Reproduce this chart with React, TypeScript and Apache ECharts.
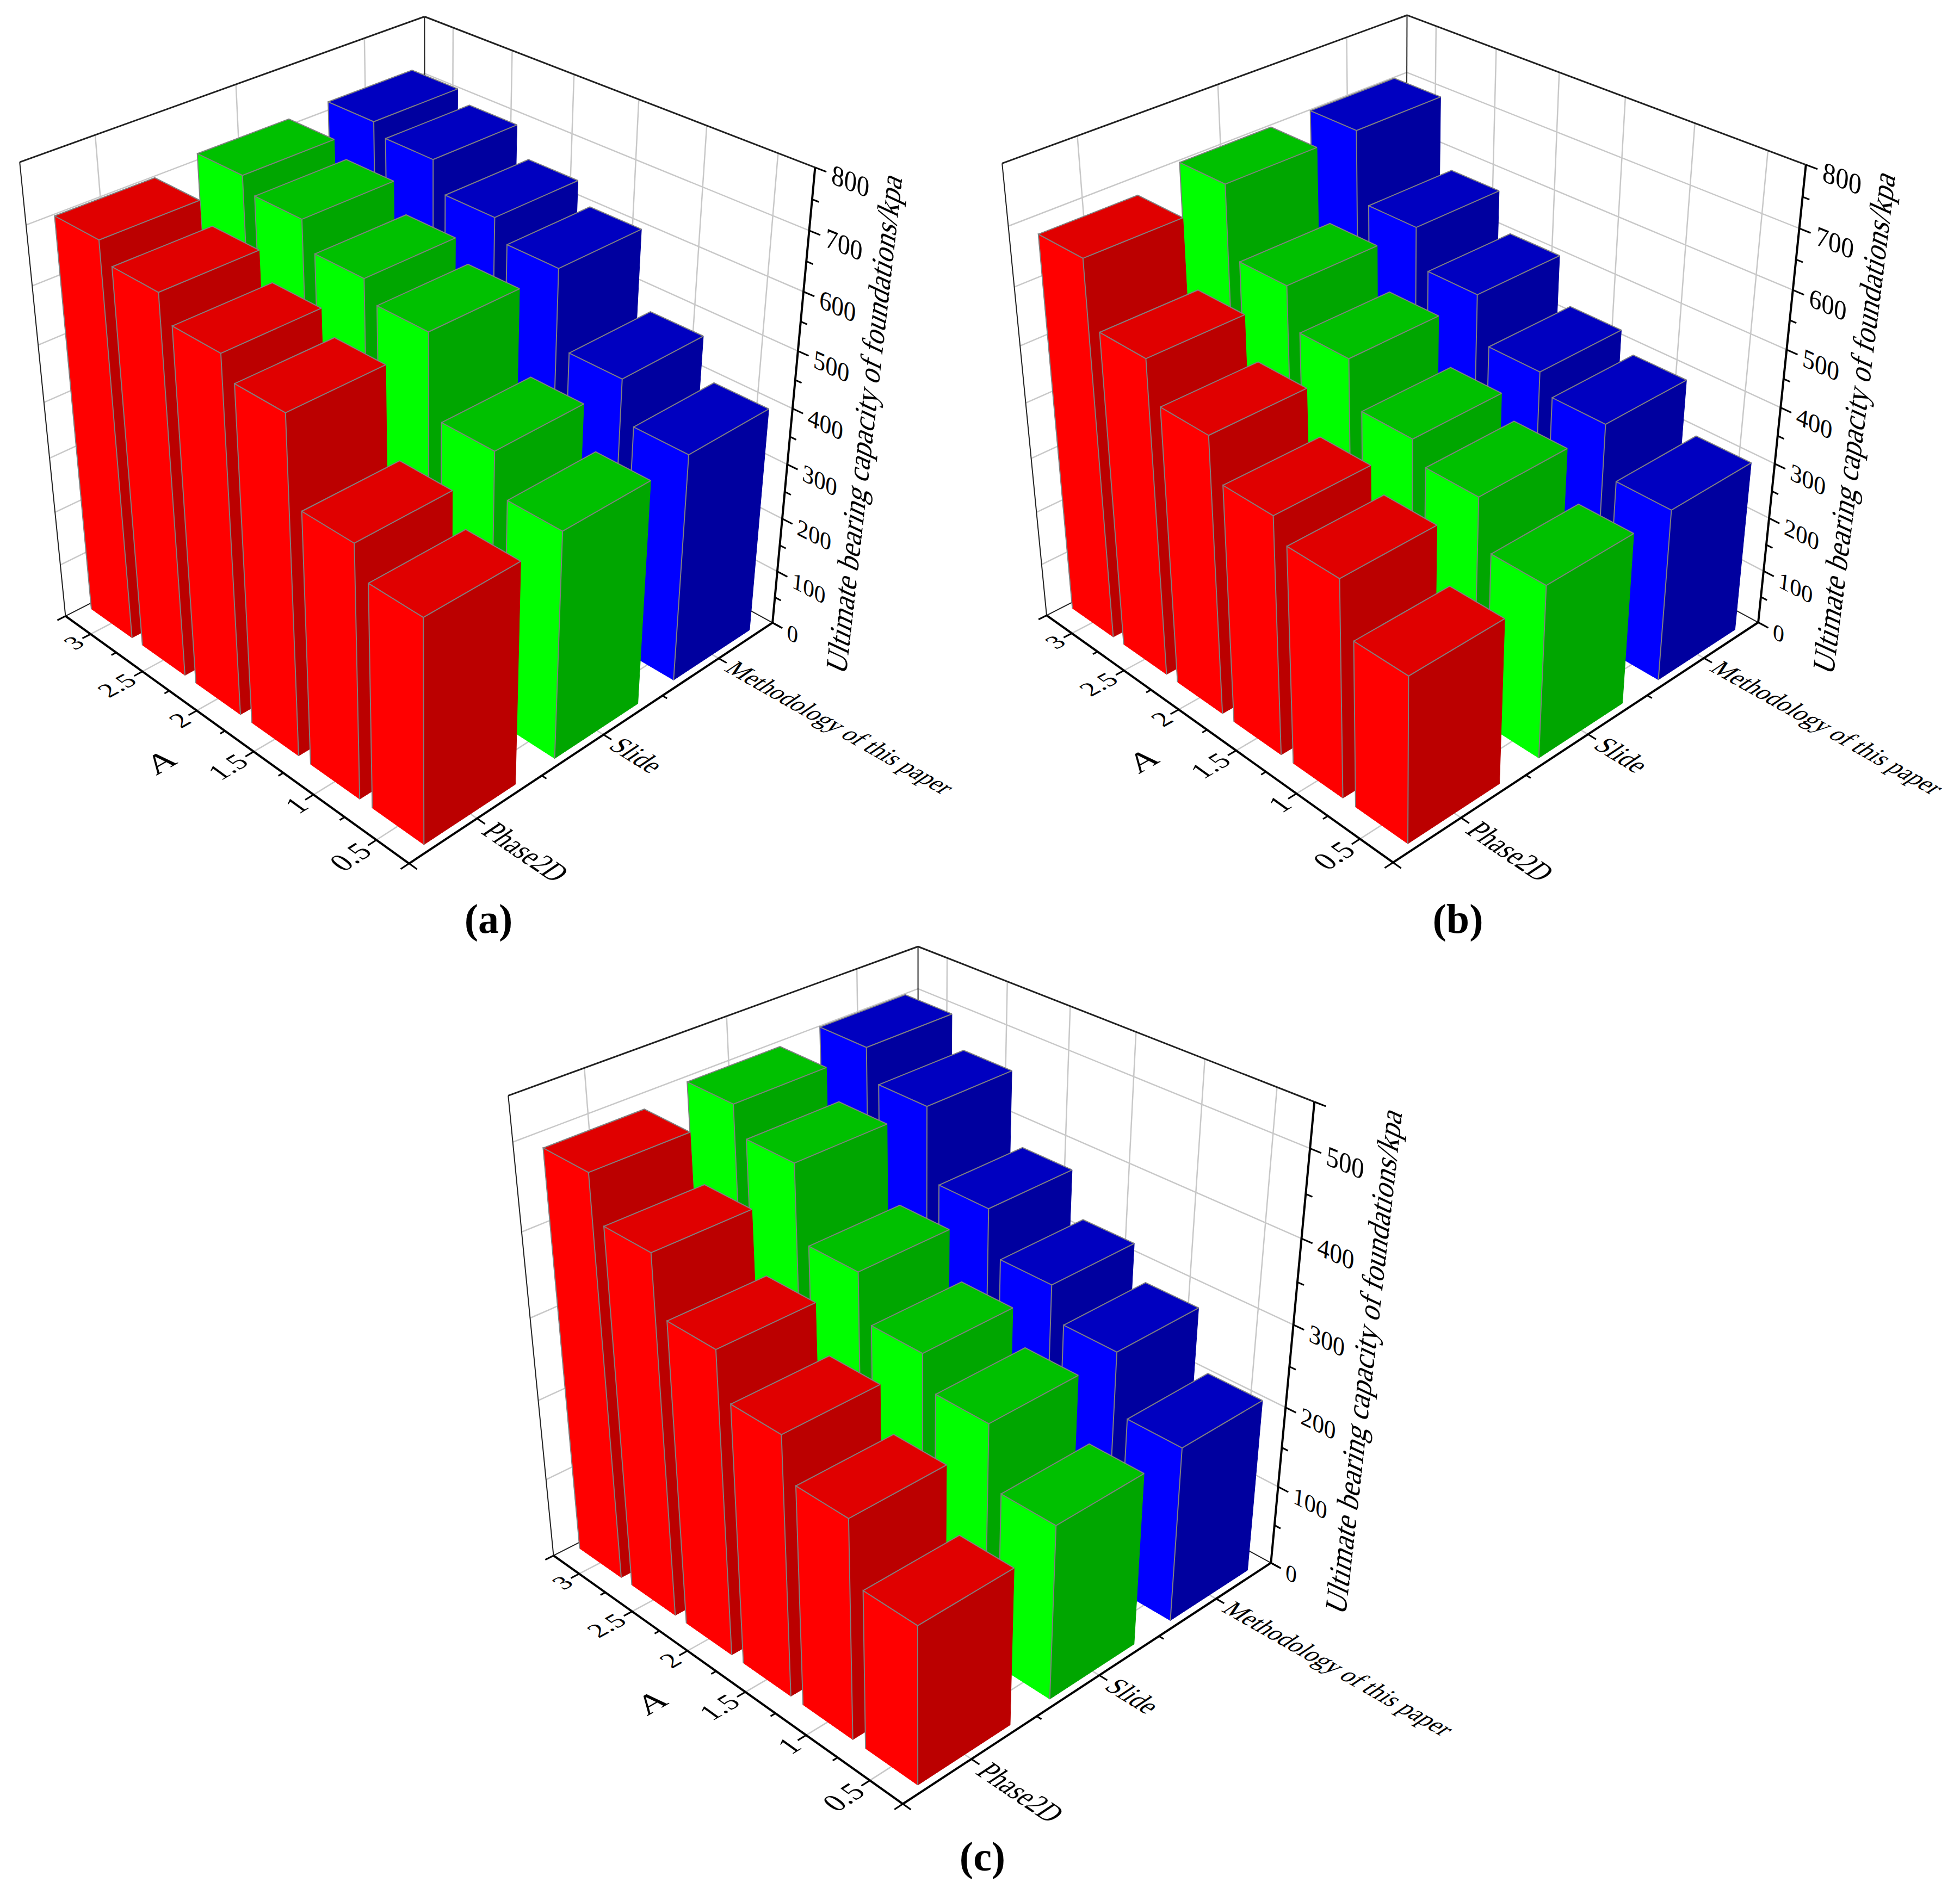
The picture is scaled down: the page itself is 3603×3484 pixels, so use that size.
import React, { useEffect, useRef } from "react";
import * as echarts from "echarts";

const FONT = '"Liberation Serif"';
const A_LABELS = ["3", "2.5", "2", "1.5", "1", "0.5"];
const METHOD_LABELS = ["Phase2D", "Slide", "Methodology of this paper"];
const TITLE = "Ultimate bearing capacity of foundations/kpa";

// Ultimate bearing capacity (kPa), in the order of A_LABELS
const a_phase2d = [705, 672, 629, 592, 446, 394];
const a_slide = [718, 693, 646, 612, 474, 404];
const a_method = [722, 702, 651, 615, 482, 411];
const b_phase2d = [677, 566, 497, 426, 388, 297];
const b_slide = [704, 583, 513, 434, 397, 312];
const b_method = [706, 585, 518, 437, 403, 314];
const c_phase2d = [487, 435, 367, 314, 265, 192];
const c_slide = [499, 466, 379, 325, 286, 213];
const c_method = [504, 467, 382, 329, 289, 217];

const COLORS = [
  { side: "#ff0000", top: "#e00000", dark: "#bb0000" },
  { side: "#00ff00", top: "#00c000", dark: "#00a600" },
  { side: "#0000ff", top: "#0000c0", dark: "#00009f" },
];
const HU = 0.4, HV = 0.345;

type Pt = number[];
// Layout: where the 3D axis box of each panel falls on the page, used to fit its projection.
const PANELS: any[] = [
  { label: "a", lx: 898, ly: 1689, max: 800, step: 100, series: [a_phase2d, a_slide, a_method],
    box: [["L",121,1132],["F",752,1585],["R",1420,1143],["Lt",37,298],["Rt",1498,307],["Bt",780,30],["a3",166,1167],["a0",686,1546],["m0",883,1505],["m2",1321,1211],["w",1457,754,0.5]] },
  { label: "b", lx: 2680, ly: 1689, max: 800, step: 100, series: [b_phase2d, b_slide, b_method],
    box: [["L",1925,1130],["F",2560,1586],["R",3230,1143],["Lt",1843,299],["Rt",3317,304],["Bt",2585,28],["a3",1970,1167],["a0",2500,1544],["m0",2685,1501],["m2",3132,1210],["w",3280,750,0.5]] },
  { label: "c", lx: 1806, ly: 3413, max: 550, step: 100, series: [c_phase2d, c_slide, c_method],
    box: [["L",1019,2859],["F",1659,3316],["R",2337,2871],["Lt",935,2014],["Rt",2417,2025],["Bt",1687,1740],["a3",1063,2895],["a0",1597,3275],["m0",1788,3232],["m2",2236,2941],["w",2376,2438,0.5455]] },
];

function worldOf(t: any[]): number[] {
  switch (t[0]) {
    case "L": return [0, 0, 0];
    case "F": return [6, 0, 0];
    case "R": return [6, 3, 0];
    case "Lt": return [0, 0, 1];
    case "Rt": return [6, 3, 1];
    case "Bt": return [0, 3, 1];
    case "a3": return [0.5, 0, 0];
    case "a0": return [5.5, 0, 0];
    case "m0": return [6, 0.5, 0];
    case "m2": return [6, 2.5, 0];
    default: return [6, 3, t[3]];
  }
}
function solve(A: number[][], b: number[]) {
  const n = b.length;
  const M = A.map((r, i) => [...r, b[i]]);
  for (let c = 0; c < n; c++) {
    let piv = c;
    for (let r = c + 1; r < n; r++) if (Math.abs(M[r][c]) > Math.abs(M[piv][c])) piv = r;
    [M[c], M[piv]] = [M[piv], M[c]];
    for (let r = 0; r < n; r++) {
      if (r === c) continue;
      const f = M[r][c] / M[c][c];
      for (let k = c; k <= n; k++) M[r][k] -= f * M[c][k];
    }
  }
  return M.map((r, i) => r[n] / r[i]);
}
function fit(ticks: any[]) {
  const rows: number[][] = [], rhs: number[] = [];
  for (const t of ticks) {
    const [u, v, w] = worldOf(t);
    const U = u / 6, V = v / 3, x = t[1] / 1000, y = t[2] / 1000;
    rows.push([U, V, w, 1, 0, 0, 0, 0, -x * U, -x * V, -x * w]); rhs.push(x);
    rows.push([0, 0, 0, 0, U, V, w, 1, -y * U, -y * V, -y * w]); rhs.push(y);
  }
  const n = 11;
  const ATA = Array.from({ length: n }, () => new Array(n).fill(0));
  const ATb = new Array(n).fill(0);
  rows.forEach((r, k) => {
    for (let i = 0; i < n; i++) { ATb[i] += r[i] * rhs[k]; for (let j = 0; j < n; j++) ATA[i][j] += r[i] * r[j]; }
  });
  return solve(ATA, ATb);
}
function projector(p: number[]) {
  return (u: number, v: number, w: number): Pt => {
    const U = u / 6, V = v / 3;
    const d = p[8] * U + p[9] * V + p[10] * w + 1;
    return [1000 * (p[0] * U + p[1] * V + p[2] * w + p[3]) / d, 1000 * (p[4] * U + p[5] * V + p[6] * w + p[7]) / d];
  };
}

function warpText(o: Pt, ex: Pt, ey: Pt, text: string, style: any) {
  const m00 = ex[0], m10 = ex[1], m01 = ey[0], m11 = ey[1];
  const E = (m00 + m11) / 2, F = (m00 - m11) / 2, G = (m10 + m01) / 2, H = (m10 - m01) / 2;
  const Q = Math.hypot(E, H), R = Math.hypot(F, G);
  const a1 = Math.atan2(G, F), a2 = Math.atan2(H, E);
  const theta = (a2 - a1) / 2, phi = (a2 + a1) / 2;
  return {
    type: "group", x: o[0], y: o[1], rotation: -phi, scaleX: Q + R, scaleY: Q - R,
    children: [{ type: "text", rotation: -theta, style: { text, fill: "#000", font: `50px ${FONT}`, ...style } }],
  };
}

function text3D(P: any, at: number[], e1: number[], e2: number[], text: string, style: any) {
  const o = P(at[0], at[1], at[2]);
  const d1 = P(at[0] + e1[0] / 50, at[1] + e1[1] / 50, at[2] + e1[2] / 50);
  const d2 = P(at[0] - e2[0] / 50, at[1] - e2[1] / 50, at[2] - e2[2] / 50);
  return warpText(o, [d1[0] - o[0], d1[1] - o[1]], [d2[0] - o[0], d2[1] - o[1]], text, style);
}

function frame(P: any, max: number, step: number) {
  const grey = { stroke: "#c8c8c8", lineWidth: 2.5, fill: "none" };
  const kids: any[] = [];
  const line = (a: Pt, b: Pt, style: any) => kids.push({ type: "line", shape: { x1: a[0], y1: a[1], x2: b[0], y2: b[1] }, style });
  for (let i = 0; i < 6; i++) {
    const u = i + 0.5;
    line(P(u, 0, 0), P(u, 3, 0), grey);
    line(P(u, 3, 0), P(u, 3, 1), grey);
  }
  for (let j = 0; j < 3; j++) {
    const v = j + 0.5;
    line(P(0, v, 0), P(6, v, 0), grey);
    line(P(0, v, 0), P(0, v, 1), grey);
  }
  for (let t = step; t <= max - 1; t += step) {
    const w = t / max;
    line(P(0, 0, w), P(0, 3, w), grey);
    line(P(0, 3, w), P(6, 3, w), grey);
  }
  const thin = { stroke: "#222", lineWidth: 2, fill: "none" };
  const thick = { stroke: "#000", lineWidth: 4, fill: "none" };
  line(P(0, 0, 0), P(0, 0, 1), thin);
  line(P(0, 3, 0), P(0, 3, 1), thin);
  line(P(0, 0, 0), P(0, 3, 0), thin);
  line(P(0, 3, 0), P(6, 3, 0), thin);
  line(P(0, 0, 1), P(0, 3, 1), { ...thin, lineWidth: 3 });
  line(P(0, 3, 1), P(6, 3, 1), { ...thin, lineWidth: 3 });
  line(P(0, 0, 0), P(6, 0, 0), thick);
  line(P(6, 0, 0), P(6, 3, 0), thick);
  line(P(6, 3, 0), P(6, 3, 1), thick);
  for (let i = 0; i <= 12; i++) {
    const u = i / 2, major = i % 2 === 1 || i === 0 || i === 12;
    line(P(u, 0, 0), P(u, major ? -0.06 : -0.035, 0), { ...thick, lineWidth: 3 });
  }
  for (let j = 0; j <= 6; j++) {
    const v = j / 2, major = j % 2 === 1 || j === 0 || j === 6;
    line(P(6, v, 0), P(major ? 6.12 : 6.07, v, 0), { ...thick, lineWidth: 3 });
  }
  for (let t = 0; t <= max; t += step / 2) {
    const w = t / max, major = t % step === 0 || t === max;
    line(P(6, 3, w), P(major ? 6.15 : 6.09, 3, w), { ...thick, lineWidth: 3 });
  }
  A_LABELS.forEach((s, i) => kids.push(text3D(P, [i + 0.5, -0.08, 0], [0, 0.17, 0], [-0.38, 0, 0], s, { align: "right", verticalAlign: "middle" })));
  METHOD_LABELS.forEach((s, j) => kids.push(text3D(P, [6.18, j + 0.5, 0], [0.31, 0, 0], [0, 0.2, 0], s, { align: "left", verticalAlign: "middle" })));
  for (let t = 0; t <= max; t += step) {
    kids.push(text3D(P, [6.22, 3, t / max], [0.33, 0, 0], [0, 0, 0.055], String(t), { align: "left", verticalAlign: "middle" }));
  }
  kids.push(text3D(P, [2.92, -0.43, 0], [0, 0.23, 0], [-0.45, 0, 0], "A", { align: "center", verticalAlign: "middle", font: `italic 50px ${FONT}` }));
  kids.push(text3D(P, [6.97, 3, 0.54], [0, 0, 0.059], [-0.4, 0, 0], TITLE, { align: "center", verticalAlign: "middle" }));
  return { type: "group", children: kids };
}

function barShape(P: any, i: number, j: number, w: number, c: any) {
  const u0 = i + 0.5 - HU, u1 = i + 0.5 + HU, v0 = j + 0.5 - HV, v1 = j + 0.5 + HV;
  const f0 = P(u1, v0, 0), f1 = P(u1, v0, w), l0 = P(u0, v0, 0), l1 = P(u0, v0, w);
  const r0 = P(u1, v1, 0), r1 = P(u1, v1, w), b1 = P(u0, v1, w);
  const fill = (points: Pt[], col: string) => ({ type: "polygon", shape: { points }, style: { fill: col, stroke: col, lineWidth: 1 } });
  const edge = (points: Pt[]) => ({ type: "polyline", shape: { points }, style: { stroke: "#808080", lineWidth: 2, fill: "none" } });
  return {
    type: "group",
    children: [
      fill([l0, f0, f1, l1], c.side), fill([f0, r0, r1, f1], c.dark), fill([l1, f1, r1, b1], c.top),
      edge([l0, l1, f1, f0]), edge([f1, r1]), edge([l1, b1, r1]),
    ],
  };
}

export default function App() {
  const ref = useRef<HTMLDivElement>(null);
  useEffect(() => {
    const chart = echarts.init(ref.current!, undefined, { renderer: "svg" });
    const series: any[] = [];
    PANELS.forEach((panel: any) => {
      const P = projector(fit(panel.box));
      series.push({ type: "custom", coordinateSystem: "none", silent: true, data: [[0]], renderItem: () => frame(P, panel.max, panel.step), z: 1 });
      panel.series.forEach((vals: number[], j: number) => {
        series.push({
          type: "custom", coordinateSystem: "none", silent: true, z: 4 - j,
          data: vals.map((x, i) => [i, j, x]),
          renderItem: (_: any, api: any) => barShape(P, api.value(0), api.value(1), api.value(2) / panel.max, COLORS[j]),
        });
      });
    });
    const labels = PANELS.map((c: any) => ({ type: "text", x: c.lx, y: c.ly, style: { text: `(${c.label})`, font: `bold 76px ${FONT}`, fill: "#000", align: "center", verticalAlign: "middle" } }));
    chart.setOption({ animation: false, backgroundColor: "#fff", graphic: { elements: labels }, series });
    return () => chart.dispose();
  }, []);
  return <div ref={ref} style={{ position: "absolute", left: 0, top: 0, width: 3603, height: 3484 }} />;
}
